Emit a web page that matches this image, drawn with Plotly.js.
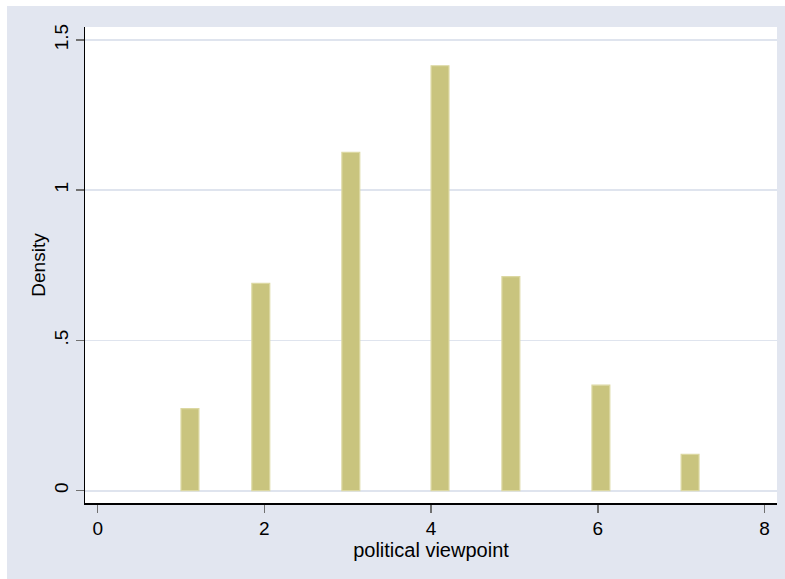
<!DOCTYPE html>
<html>
<head>
<meta charset="utf-8">
<script src="https://cdn.plot.ly/plotly-3.0.1.min.js"></script>
<style>
  html, body { margin: 0; padding: 0; background: #ffffff; width: 785px; height: 579px; overflow: hidden; }
  #chart { position: absolute; left: 7px; top: 6px; width: 778px; height: 573px; }
</style>
</head>
<body>
<div id="chart"></div>
<script>
// Histogram bins (left edges) of political viewpoint and their densities
const binLeft = [1.0, 1.85, 2.93, 4.0, 4.85, 5.93, 7.0];
const binWidth = 0.2143;
const density = [0.273, 0.690, 1.126, 1.414, 0.712, 0.351, 0.121];

const xTickVals = [0, 2, 4, 6, 8];
const xTickText = ['0', '2', '4', '6', '8'];
const yTickVals = [0, 0.5, 1, 1.5];
const yTickText = ['0', '.5', '1', '1.5'];

const font = { family: 'Liberation Sans, Arial, sans-serif', size: 19, color: '#000000' };
const titleFont = { family: 'Liberation Sans, Arial, sans-serif', size: 20, color: '#000000' };

const trace = {
  type: 'bar',
  x: binLeft,
  y: density,
  width: binLeft.map(() => binWidth),
  offset: 0,
  marker: { color: '#c9c47e', line: { color: '#dcd8a2', width: 1.2 } },
  hoverinfo: 'skip'
};

const layout = {
  width: 778,
  height: 573,
  margin: { l: 78, r: 8, t: 21, b: 76 },
  paper_bgcolor: '#e2e6f0',
  plot_bgcolor: '#ffffff',
  showlegend: false,
  bargap: 0,
  font: font,
  xaxis: {
    range: [-0.152, 8.15],
    tickmode: 'array',
    tickvals: xTickVals,
    ticktext: xTickText,
    ticks: 'outside',
    ticklen: 8,
    tickwidth: 1.5,
    tickcolor: '#707070',
    showgrid: false,
    zeroline: false,
    showline: true,
    linecolor: '#000000',
    linewidth: 1.5,
    tickfont: font,
    title: { text: 'political viewpoint', font: titleFont, standoff: 1 }
  },
  yaxis: {
    range: [-0.041, 1.543],
    tickmode: 'array',
    tickvals: yTickVals,
    ticktext: yTickText,
    tickangle: -90,
    ticks: 'outside',
    ticklen: 8,
    tickwidth: 1.5,
    tickcolor: '#707070',
    showgrid: true,
    gridcolor: '#dfe4ee',
    gridwidth: 1.8,
    zeroline: false,
    showline: true,
    linecolor: '#000000',
    linewidth: 1.5,
    tickfont: font,
    title: { text: 'Density', font: font, standoff: 0 }
  }
};

Plotly.newPlot('chart', [trace], layout, { displayModeBar: false, staticPlot: true });
</script>
</body>
</html>
